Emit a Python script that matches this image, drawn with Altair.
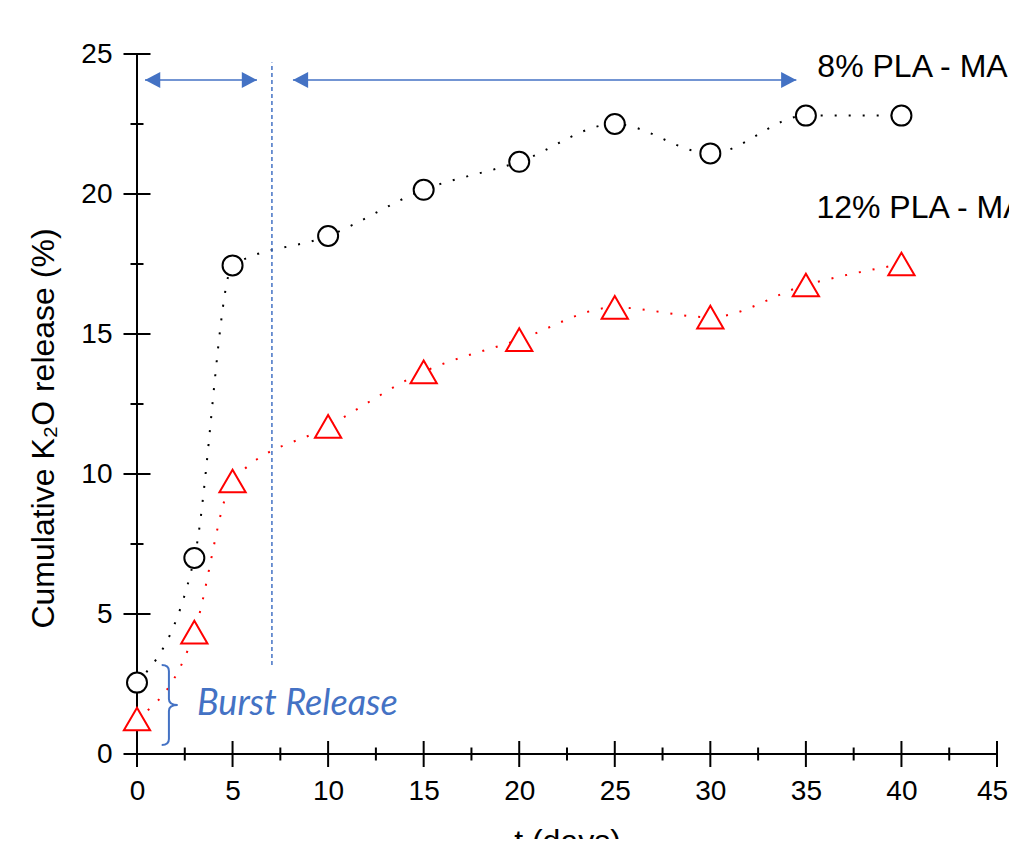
import altair as alt
import pandas as pd

# ---- data ----
t_days = [0, 3, 5, 10, 15, 20, 25, 30, 35, 40]
pla8 = [2.55, 7.0, 17.45, 18.5, 20.15, 21.15, 22.5, 21.45, 22.8, 22.8]
pla12 = [1.25, 4.35, 9.75, 11.7, 13.65, 14.8, 15.95, 15.6, 16.75, 17.5]
series_names = ["8% PLA - MA", "12% PLA - MA"]

x_major = [0, 5, 10, 15, 20, 25, 30, 35, 40, 45]
x_minor = [2.5, 7.5, 12.5, 17.5, 22.5, 27.5, 32.5, 37.5, 42.5]
y_major = [0, 5, 10, 15, 20, 25]
y_minor = [2.5, 7.5, 12.5, 17.5, 22.5]

# annotation anchors (data units)
label_x = [35.6, 35.55]
label_y = [24.18, 19.14]
arrow_y = 24.07
arrow_from = [0.42, 8.16]
arrow_to = [6.28, 34.5]
divider_x = 7.06
divider_y = [3.18, 24.7]
brace_xy = [1.67, 1.75]
burst_xy = [3.14, 1.39]
burst_text = "Burst Release"

BLUE = "#4472C4"
FONT = "Liberation Sans"

rows = []
for name, vals in zip(series_names, [pla8, pla12]):
    for t, v in zip(t_days, vals):
        rows.append({"t": t, "v": v, "series": name})
df = pd.DataFrame(rows)

xs = alt.Scale(domain=[0, 45], nice=False, zero=False)
ys = alt.Scale(domain=[0, 25], nice=False, zero=False)

color_scale = alt.Scale(domain=series_names, range=["black", "#FF0000"])
shape_scale = alt.Scale(domain=series_names, range=["circle", "triangle-up"])
size_scale = alt.Scale(domain=series_names, range=[400, 690])

xaxis = alt.Axis(values=x_major, grid=False, ticks=False, domain=False,
                 labelFont=FONT, labelFontSize=28, labelColor="black",
                 labelPadding=23, labelFlush=False, labelOverlap=False,
                 labelOffset=alt.ExprRef(f"datum.value == {x_major[-1]} ? -5 : 0"),
                 title="t (days)", titleFont=FONT, titleFontSize=32,
                 titleFontWeight="normal", titleColor="black",
                 titleBaseline="top", titleY=72)
yaxis = alt.Axis(values=y_major, grid=False, ticks=False, domain=False,
                 labelFont=FONT, labelFontSize=28, labelColor="black",
                 labelPadding=25, labelFlush=False, labelOverlap=False,
                 title="Cumulative K₂O release (%)", titleFont=FONT,
                 titleFontSize=32, titleFontWeight="normal", titleColor="black",
                 titleAngle=270, titleBaseline="alphabetic", titleAlign="center",
                 titleX=-84, titleY=374)

lines = alt.Chart(df).mark_line(
    interpolate="monotone", strokeDash=[2, 12], strokeWidth=2
).encode(
    x=alt.X("t:Q", scale=xs, axis=xaxis),
    y=alt.Y("v:Q", scale=ys, axis=yaxis),
    color=alt.Color("series:N", scale=color_scale, legend=None),
    detail="series:N",
)

points = alt.Chart(df).mark_point(filled=False, fill="white", fillOpacity=1,
                                   strokeWidth=2, opacity=1).encode(
    x=alt.X("t:Q", scale=xs),
    y=alt.Y("v:Q", scale=ys),
    color=alt.Color("series:N", scale=color_scale, legend=None),
    shape=alt.Shape("series:N", scale=shape_scale, legend=None),
    size=alt.Size("series:N", scale=size_scale, legend=None),
)

# axis lines
x_dom = pd.DataFrame({"a": [x_major[0]], "b": [x_major[-1]], "y": [y_major[0]]})
y_dom = pd.DataFrame({"a": [y_major[0]], "b": [y_major[-1]], "x": [x_major[0]]})
xline = alt.Chart(x_dom).mark_rule(color="black", strokeWidth=2).encode(
    x=alt.X("a:Q", scale=xs), x2="b:Q", y=alt.Y("y:Q", scale=ys))
yline = alt.Chart(y_dom).mark_rule(color="black", strokeWidth=2).encode(
    y=alt.Y("a:Q", scale=ys), y2="b:Q", x=alt.X("x:Q", scale=xs))

def xticks(vals, size):
    return alt.Chart(pd.DataFrame({"v": vals, "y": [0] * len(vals)})).mark_tick(
        orient="vertical", size=size, thickness=2, color="black", opacity=1
    ).encode(x=alt.X("v:Q", scale=xs), y=alt.Y("y:Q", scale=ys))

def yticks(vals, size):
    return alt.Chart(pd.DataFrame({"v": vals, "x": [0] * len(vals)})).mark_tick(
        orient="horizontal", size=size, thickness=2, color="black", opacity=1
    ).encode(y=alt.Y("v:Q", scale=ys), x=alt.X("x:Q", scale=xs))

ticks = xticks(x_major, 26) + xticks(x_minor, 13) + yticks(y_major, 27) + yticks(y_minor, 13)

# arrows
arr = pd.DataFrame({"a": arrow_from, "b": arrow_to, "y": [arrow_y] * 2})
arrow_lines = alt.Chart(arr).mark_rule(color=BLUE, strokeWidth=1.5).encode(
    x=alt.X("a:Q", scale=xs), x2="b:Q", y=alt.Y("y:Q", scale=ys))
left_heads = alt.Chart(arr).mark_point(
    shape="M0,0L1.9,-1L1.9,1Z", filled=True, size=256, color=BLUE, opacity=1, strokeWidth=0
).encode(x=alt.X("a:Q", scale=xs), y=alt.Y("y:Q", scale=ys))
right_heads = alt.Chart(arr).mark_point(
    shape="M0,0L-1.9,-1L-1.9,1Z", filled=True, size=256, color=BLUE, opacity=1, strokeWidth=0
).encode(x=alt.X("b:Q", scale=xs), y=alt.Y("y:Q", scale=ys))

divider = alt.Chart(pd.DataFrame({"x": [divider_x], "a": [divider_y[0]], "b": [divider_y[1]]})).mark_rule(
    color=BLUE, strokeWidth=1.5, strokeDash=[4, 3]
).encode(x=alt.X("x:Q", scale=xs), y=alt.Y("a:Q", scale=ys), y2="b:Q")

brace = alt.Chart(pd.DataFrame({"x": [brace_xy[0]], "y": [brace_xy[1]]})).mark_point(
    shape="M-0.18,-1Q0,-1 0,-0.85L0,-0.15Q0,0 0.22,0Q0,0 0,0.15L0,0.85Q0,1 -0.18,1",
    filled=False, size=6400, color=BLUE, strokeWidth=2, opacity=1
).encode(x=alt.X("x:Q", scale=xs), y=alt.Y("y:Q", scale=ys))

burst = alt.Chart(pd.DataFrame({"x": [burst_xy[0]], "y": [burst_xy[1]], "txt": [burst_text]})).mark_text(
    font="Lato", fontStyle="italic", fontSize=36, color=BLUE, align="left", baseline="alphabetic"
).encode(x=alt.X("x:Q", scale=xs), y=alt.Y("y:Q", scale=ys), text="txt:N")

labels = alt.Chart(pd.DataFrame({"x": label_x, "y": label_y, "txt": series_names})).mark_text(
    font=FONT, fontSize=32, color="black", align="left", baseline="alphabetic"
).encode(x=alt.X("x:Q", scale=xs), y=alt.Y("y:Q", scale=ys), text="txt:N")

chart = alt.layer(
    lines, ticks, xline, yline, divider, arrow_lines, left_heads, right_heads,
    brace, burst, labels, points
).properties(
    width=860, height=700,
    padding={"left": 129, "top": 46, "right": 12, "bottom": 85},
    autosize=alt.AutoSizeParams(type="none"),
    background="white",
).configure_view(stroke=None)

chart.save("out.html", embed_options={"renderer": "svg", "actions": False})
